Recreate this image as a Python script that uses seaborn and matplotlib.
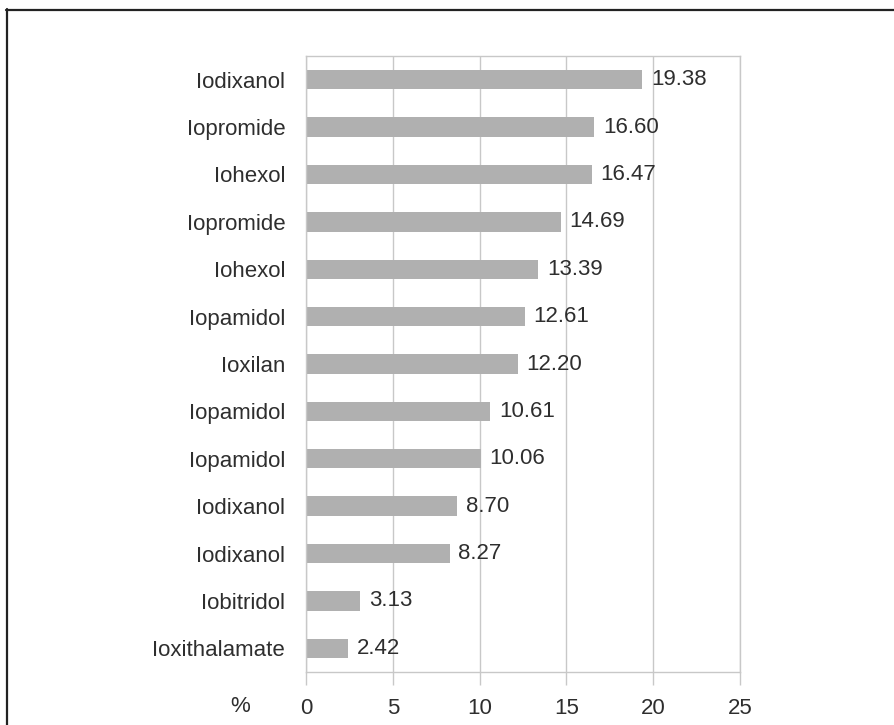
import matplotlib
matplotlib.use("Agg")
import matplotlib.pyplot as plt
from matplotlib.lines import Line2D
import seaborn as sns
import pandas as pd

agents = ["Iodixanol", "Iopromide", "Iohexol", "Iopromide", "Iohexol", "Iopamidol",
          "Ioxilan", "Iopamidol", "Iopamidol", "Iodixanol", "Iodixanol", "Iobitridol",
          "Ioxithalamate"]
percent = [19.38, 16.60, 16.47, 14.69, 13.39, 12.61, 12.20, 10.61, 10.06, 8.70, 8.27, 3.13, 2.42]
xticks = [0, 5, 10, 15, 20, 25]

sns.set_theme(style="white")
plt.rcParams["font.family"] = ["Liberation Sans Narrow", "Liberation Sans", "DejaVu Sans"]

text_color = "#2e2e2e"
grid_color = "#c8c8c8"
bar_color = "#b0b0b0"

df = pd.DataFrame({"row": [f"r{i}" for i in range(len(agents))],
                   "agent": agents, "pct": percent})

W, H = 894, 725
fig = plt.figure(figsize=(W / 100, H / 100), dpi=100)
ax = fig.add_axes([306 / W, 1 - 672 / H, (740 - 306) / W, (672 - 56) / H])

sns.barplot(data=df, x="pct", y="row", color=bar_color, width=0.41,
            saturation=1, edgecolor="none", ax=ax)

ax.set_xlim(0, 25)
ax.set_xticks(xticks)
ax.set_xticklabels([str(t) for t in xticks])
ax.set_yticks(range(len(agents)))
ax.set_yticklabels(agents)
ax.set_xlabel("")
ax.set_ylabel("")

ax.xaxis.grid(True, color=grid_color, linewidth=1)
ax.yaxis.grid(False)
ax.set_axisbelow(True)
for s in ax.spines.values():
    s.set_visible(True)
    s.set_color(grid_color)
    s.set_linewidth(1)

ax.tick_params(axis="x", length=9, width=1, color=grid_color, pad=10,
               labelsize=16, labelcolor=text_color, bottom=True)
ax.tick_params(axis="y", length=0, pad=15, labelsize=16, labelcolor=text_color)

for i, v in enumerate(percent):
    ax.text(v + 0.5, i, f"{v:.2f}", va="center", ha="left",
            fontsize=16, color=text_color)

fig.text(240 / W, 1 - 707 / H, "%", ha="center", va="center",
         fontsize=16, color=text_color)

# frame around the figure (top and left edges)
fig.add_artist(Line2D([6 / W, 1.0], [1 - 9.5 / H, 1 - 9.5 / H],
                      transform=fig.transFigure, color="#222222", linewidth=1.6))
fig.add_artist(Line2D([6.5 / W, 6.5 / W], [1 - 9 / H, 0.0],
                      transform=fig.transFigure, color="#222222", linewidth=1.6))

fig.savefig("out.png", dpi=100, facecolor="white")
